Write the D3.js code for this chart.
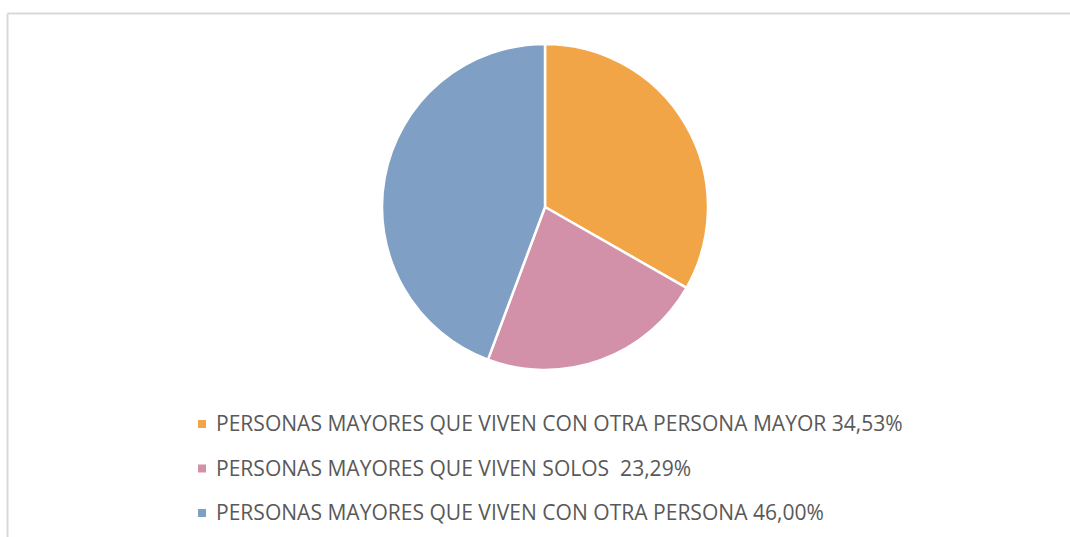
<!DOCTYPE html>
<html><head><meta charset="utf-8">
<script src="https://cdn.jsdelivr.net/npm/d3@7"></script>
<style>body{margin:0;background:#fff}svg{display:block}text{white-space:pre}</style>
</head><body>
<svg id="c" width="1070" height="537"></svg>
<script>
const categories = [
  "PERSONAS MAYORES QUE VIVEN CON OTRA PERSONA MAYOR 34,53%",
  "PERSONAS MAYORES QUE VIVEN SOLOS  23,29%",
  "PERSONAS MAYORES QUE VIVEN CON OTRA PERSONA 46,00%"
];
const values = [34.53, 23.29, 46.00];
const colors = ["#F2A546", "#D291A8", "#7F9FC4"];

const svg = d3.select("#c");
// chart border (top and left visible)
svg.append("line").attr("x1",7.5).attr("x2",1070).attr("y1",13.5).attr("y2",13.5).attr("stroke","#d9d9d9").attr("stroke-width",2);
svg.append("line").attr("x1",7.5).attr("x2",7.5).attr("y1",13.5).attr("y2",537).attr("stroke","#d9d9d9").attr("stroke-width",2);

const data = values.map((v,i)=>({v, i}));
const pie = d3.pie().value(d=>d.v).sort(null);
const arc = d3.arc().innerRadius(0).outerRadius(163);
const g = svg.append("g").attr("transform","translate(545,207)");
g.selectAll("path").data(pie(data)).join("path")
  .attr("d", arc).attr("fill", d=>colors[d.data.i])
  .attr("stroke","#fff").attr("stroke-width",2.5).attr("stroke-linejoin","round");

const color = d3.scaleOrdinal().domain(categories).range(colors);
const y = d3.scalePoint().domain(categories).range([424, 513]);
const lg = svg.append("g");
const items = lg.selectAll("g").data(categories).join("g")
  .attr("transform", d=>`translate(0,${y(d)})`);
items.append("rect").attr("x",198).attr("y",-4).attr("width",8).attr("height",8).attr("fill", d=>color(d));
const texts = items.append("text").attr("x",216).attr("y",0).attr("dy","0.35em")
  .attr("fill","#595959").attr("font-family","'Open Sans', sans-serif").attr("font-size",20)
  .text(d=>d);
// fit font size to reference text width
const w = texts.nodes()[0].getComputedTextLength();
const fs = 20 * 687 / w;
texts.attr("font-size", fs);
</script>
</body></html>
